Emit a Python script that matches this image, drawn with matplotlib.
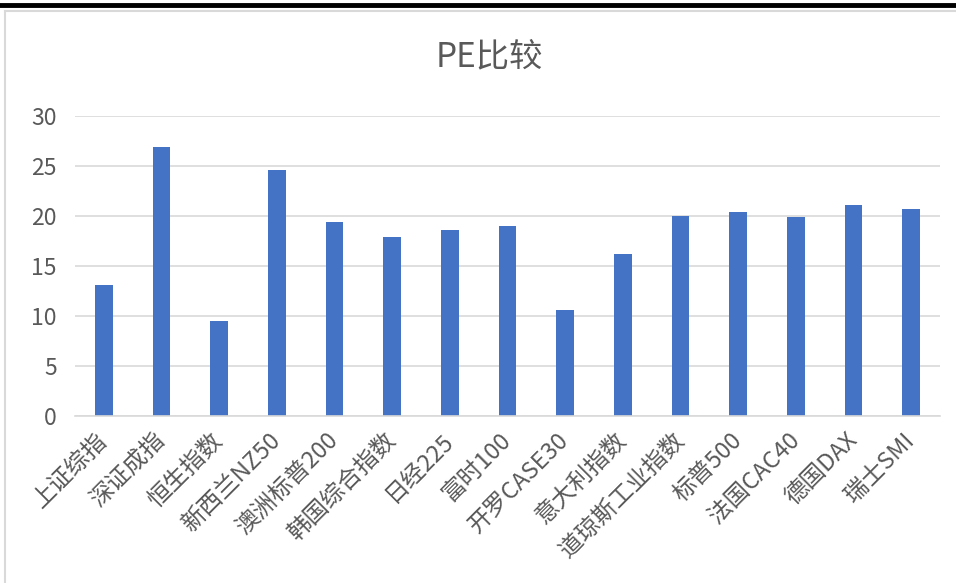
#libraries
import numpy as np
import matplotlib.pyplot as plt
from matplotlib.lines import Line2D

plt.rcParams['font.family'] = ['Noto Sans CJK SC', 'DejaVu Sans']

# data
categories = ['上证综指', '深证成指', '恒生指数', '新西兰NZ50', '澳洲标普200', '韩国综合指数',
              '日经225', '富时100', '开罗CASE30', '意大利指数', '道琼斯工业指数', '标普500',
              '法国CAC40', '德国DAX', '瑞士SMI']
pe_values = [13.1, 26.9, 9.5, 24.6, 19.4, 17.9, 18.6, 19.0, 10.6, 16.2, 20.0, 20.4, 19.9, 21.1, 20.7]
y_ticks = [0, 5, 10, 15, 20, 25, 30]

W, H = 956, 583
fig = plt.figure(figsize=(W / 100, H / 100), dpi=100)
ax = fig.add_axes([75 / W, (H - 416) / H, (940 - 75) / W, (416 - 116) / H])

x = np.arange(len(categories))
ax.bar(x, pe_values, width=0.31, color='#4472C4', zorder=3)

ax.set_xlim(-0.5, len(categories) - 0.5)
ax.set_ylim(0, 30)
ax.set_yticks(y_ticks)
ax.set_yticklabels([str(v) for v in y_ticks], fontsize=16.5, fontweight='light')
ax.yaxis.grid(True, color='#D9D9D9', linewidth=1.2, zorder=0)
for s in ['top', 'right', 'left']:
    ax.spines[s].set_visible(False)
ax.spines['bottom'].set_color('#D9D9D9')
ax.spines['bottom'].set_linewidth(1.2)
ax.spines['bottom'].set_zorder(4)
ax.tick_params(axis='both', length=0, colors='#595959')
ax.tick_params(axis='y', pad=13)

ax.set_xticks(x)
ax.set_xticklabels(categories, rotation=45, ha='right', va='center',
                   rotation_mode='anchor', fontsize=17, fontweight='light', color='#595959')
ax.tick_params(axis='x', pad=15)

fig.text(489 / W, 1 - 57 / H, 'PE比较', ha='center', va='center', fontsize=24,
         fontweight='light', color='#595959')

# frame lines
fig.add_artist(Line2D([0, 1], [1 - 5 / H, 1 - 5 / H], color='black', linewidth=3.5))
fig.add_artist(Line2D([5 / W, 1], [1 - 11 / H, 1 - 11 / H], color='#D9D9D9', linewidth=1.5))
fig.add_artist(Line2D([5 / W, 5 / W], [0, 1 - 11 / H], color='#D9D9D9', linewidth=1.5))

fig.savefig('out.png', dpi=100)
